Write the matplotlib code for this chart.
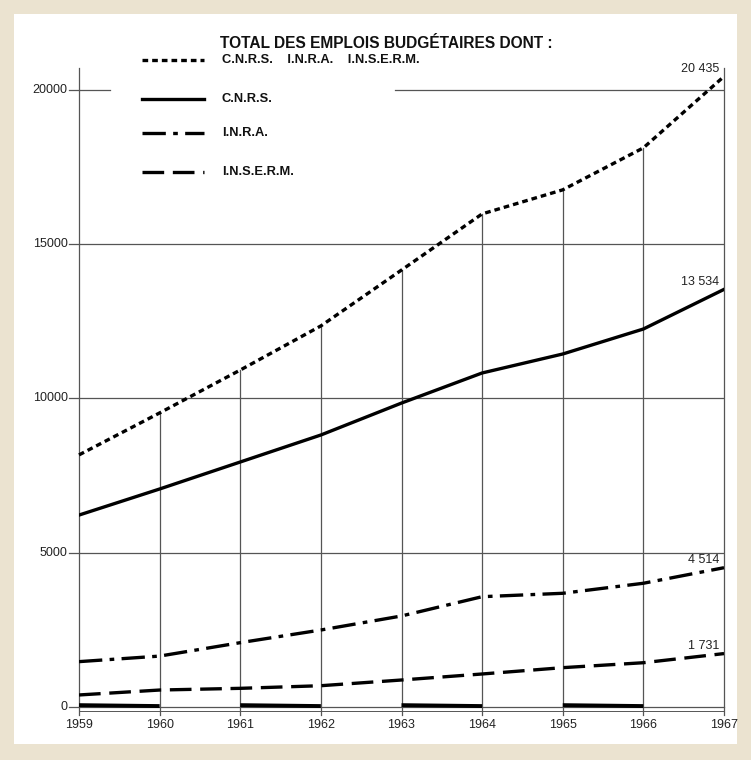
import matplotlib.pyplot as plt
import matplotlib.patches as patches
from matplotlib import font_manager

# data
years = [1959, 1960, 1961, 1962, 1963, 1964, 1965, 1966, 1967]
total = [8170, 9530, 10920, 12350, 14160, 15980, 16760, 18120, 20435]
cnrs = [6220, 7065, 7940, 8815, 9850, 10825, 11440, 12250, 13534]
inra = [1470, 1650, 2085, 2495, 2950, 3575, 3685, 4010, 4514]
inserm = [390, 550, 605, 690, 875, 1070, 1275, 1435, 1731]
end_labels = ['20 435', '13 534', '4 514', '1 731']
y_ticks = [0, 5000, 10000, 15000, 20000]

names = [f.name for f in font_manager.fontManager.ttflist]
font = 'Liberation Sans Narrow' if 'Liberation Sans Narrow' in names else 'Liberation Sans'
plt.rcParams['font.family'] = [font, 'DejaVu Sans']

W, H = 751, 760
fig = plt.figure(figsize=(W / 100, H / 100), dpi=100)
fig.patch.set_facecolor('#ebe3d0')
fig.patches.append(patches.Rectangle((14 / W, 16 / H), 723 / W, 730 / H,
                                     transform=fig.transFigure, facecolor='white',
                                     edgecolor='none', zorder=-5))

ax = fig.add_axes([79 / W, 53 / H, 645 / W, 648 / H])
ax.set_zorder(1)
ax.set_facecolor('none')
ax.set_xlim(1959, 1967)
ax.set_ylim(0, 21000)
for s in ax.spines.values():
    s.set_visible(False)
ax.set_xticks([])
ax.set_yticks([])

grid_c = '#555555'
# horizontal lines
for v in [5000, 10000, 15000]:
    ax.plot([1959, 1967], [v, v], color=grid_c, lw=0.9, zorder=1)
ax.plot([1959, 1959.38], [20000, 20000], color=grid_c, lw=0.9, zorder=1)
ax.plot([1962.92, 1967], [20000, 20000], color=grid_c, lw=0.9, zorder=1)
ax.plot([1959, 1967], [0, 0], color=grid_c, lw=0.9, zorder=1, clip_on=False)
ax.plot([1959, 1967], [-120, -120], color=grid_c, lw=0.7, zorder=1, clip_on=False)

# vertical lines up to the total curve
for i, yr in enumerate(years):
    top = total[i]
    if yr == 1959:
        top = 20700
    if yr == 1967:
        top = 20700
    ax.plot([yr, yr], [-250, top], color=grid_c, lw=0.9, zorder=1, clip_on=False)

# y tick marks and labels
for v in y_ticks:
    ax.plot([1958.88, 1959], [v, v], color=grid_c, lw=0.9, zorder=1, clip_on=False)
    ax.text(1958.86, v, str(v), ha='right', va='center', fontsize=9, color='#222222')
for yr in years:
    ax.text(yr, -380, str(yr), ha='center', va='top', fontsize=9, color='#222222')

# thick baseline segments
for k in range(0, 8, 2):
    ax.plot([years[k], years[k + 1]], [60, 30], color='black', lw=2.8,
            solid_capstyle='butt', zorder=2, clip_on=False)

lw = 2.4
l1, = ax.plot(years, total, color='black', lw=lw, zorder=3, clip_on=False)
l1.set_dashes([1.7, 1.2])
ax.plot(years, cnrs, color='black', lw=lw, zorder=3)
l3, = ax.plot(years, inra, color='black', lw=lw, zorder=3)
l3.set_dashes([7, 2.2, 1.4, 2.2])
l4, = ax.plot(years, inserm, color='black', lw=lw, zorder=3)
l4.set_dashes([6.5, 2.6])

# end values
for val, lab in zip([total[-1], cnrs[-1], inra[-1], inserm[-1]], end_labels):
    ax.text(1966.94, val + 60, lab, ha='right', va='bottom', fontsize=9, color='#222222')

# legend drawn in figure coordinates
def fx(px):
    return px / W

def fy(py):
    return 1 - py / H

fig.text(fx(220), fy(43), 'TOTAL DES EMPLOIS BUDGÉTAIRES DONT :', fontsize=11.2,
         fontweight='bold', va='center', ha='left', color='#111111')
rows = [(60, 'C.N.R.S.    I.N.R.A.    I.N.S.E.R.M.', [1.7, 1.2]),
        (99, 'C.N.R.S.', None),
        (133, 'I.N.R.A.', [7, 2.2, 1.4, 2.2]),
        (172, 'I.N.S.E.R.M.', [6.5, 2.6])]
for py, txt, dash in rows:
    ln = plt.Line2D([fx(142), fx(204)], [fy(py), fy(py)], transform=fig.transFigure,
                    color='black', lw=lw)
    if dash:
        ln.set_dashes(dash)
    fig.lines.append(ln)
    fig.text(fx(222), fy(py), txt, fontsize=9.3, fontweight='bold', va='center',
             ha='left', color='#111111')

fig.savefig('out.png', dpi=100, facecolor=fig.get_facecolor())
